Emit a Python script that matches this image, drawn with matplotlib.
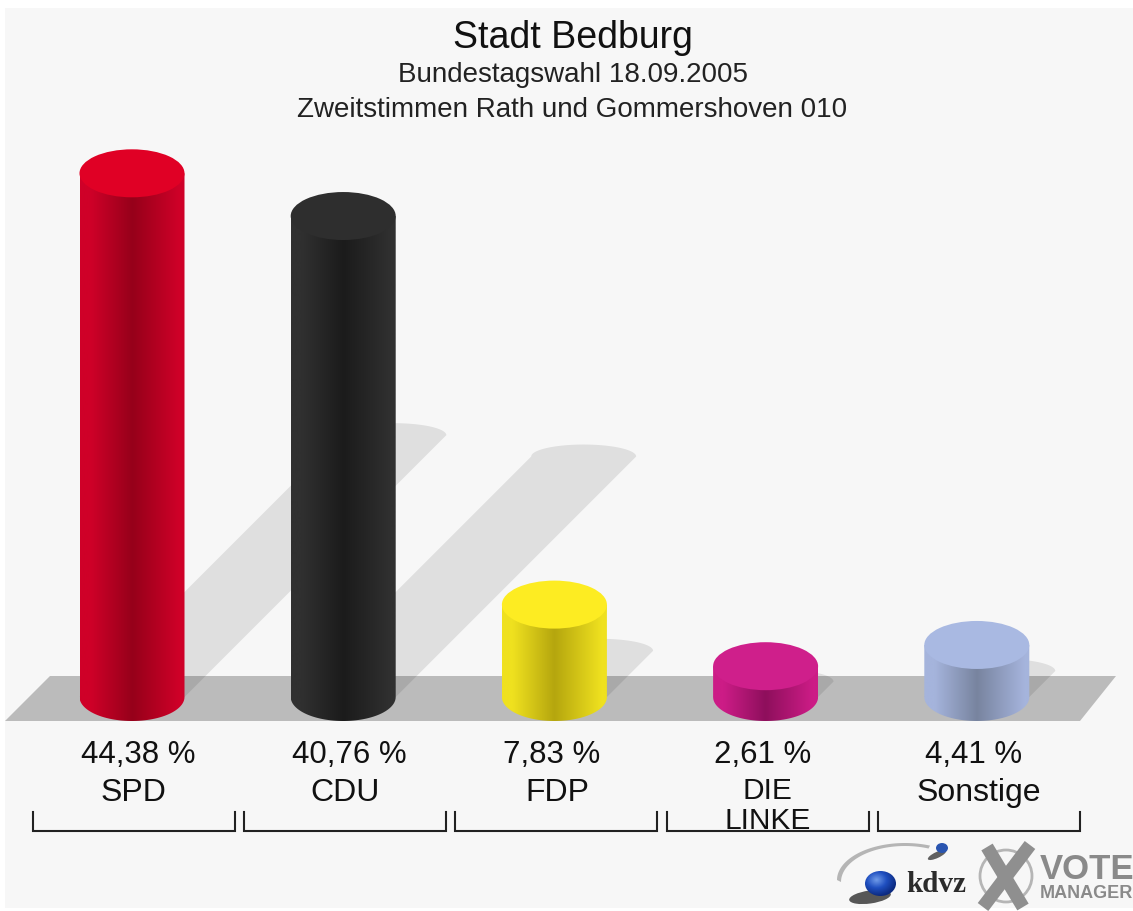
import numpy as np
import matplotlib
matplotlib.use("Agg")
import matplotlib.pyplot as plt
from matplotlib.patches import Polygon, Ellipse, Rectangle, Circle
from matplotlib.colors import LinearSegmentedColormap

title = "Stadt Bedburg"
subtitle_1 = "Bundestagswahl 18.09.2005"
subtitle_2 = "Zweitstimmen Rath und Gommershoven 010"
parties = ["SPD", "CDU", "FDP", "DIE\nLINKE", "Sonstige"]
values = [44.38, 40.76, 7.83, 2.61, 4.41]
value_labels = ["44,38 %", "40,76 %", "7,83 %", "2,61 %", "4,41 %"]
top_colors = ["#e00025", "#2e2e2e", "#fdec22", "#cf1f8b", "#a9b9e2"]
edge_colors = ["#cf0028", "#303030", "#efe11f", "#cc1c86", "#a5b4dc"]
dark_colors = ["#96001a", "#1b1b1b", "#b5a60e", "#8e0f5c", "#78849f"]

W, H = 1133, 911
PX_X = 211.2      # pixels per category
PX_Y = 11.8       # pixels per percent
X0, Y0 = 132, 697 # pixel position of category 0, value 0
HALF_W = 52.5 / PX_X
ELL_H = 24 / PX_Y
VALUE_DX = [6, 6, -3, -3, -3]   # label nudges in pixels
NAME_DX = [1, 2, 3, 2, 2]
TXT = "#111111"

fig = plt.figure(figsize=(W / 100, H / 100), dpi=100, facecolor="white")
plt.rcParams["font.family"] = ["Liberation Sans", "DejaVu Sans"]

# pixel-coordinate layer: panel, floor, logo
ax = fig.add_axes([0, 0, 1, 1])
ax.set_xlim(0, W); ax.set_ylim(H, 0); ax.axis("off")
ax.add_patch(Rectangle((5, 8), W - 5, 900, fc="#f7f7f7", ec="none", zorder=0))
ax.add_patch(Polygon([(5, 721), (1080, 721), (1116, 676), (50, 676)], fc="#bbbbbb", ec="none", zorder=1))

# data layer
dx = fig.add_axes([0, 0, 1, 1], facecolor="none")
dx.axis("off")
xlim = (-X0 / PX_X, (W - X0) / PX_X)
ylim = ((Y0 - H) / PX_Y, Y0 / PX_Y)


def ell_pts(cx, cy, w, h, start, stop, n=60):
    t = np.linspace(start, stop, n)
    return np.column_stack([cx + w * np.cos(t), cy + h * np.sin(t)])


def py(p):
    return (Y0 - p) / PX_Y


for i, v in enumerate(values):
    # shadow falling up and to the right at half the bar's height
    d = 0.5 * v
    sx = i + d * PX_Y / PX_X
    top = ell_pts(sx, d, HALF_W, 12 / PX_Y, 0, np.pi)
    pts = np.vstack([[(i - HALF_W, 0), (i + HALF_W, 0)], top])
    dx.add_patch(Polygon(pts, fc="black", alpha=0.095, ec="none", zorder=2))

for i, v in enumerate(values):
    # cylinder body with a horizontal shading gradient
    bottom = ell_pts(i, 0, HALF_W, ELL_H, np.pi, 2 * np.pi)
    pts = np.vstack([bottom, [(i + HALF_W, v), (i - HALF_W, v)]])
    body = Polygon(pts, closed=True, fc="none", ec="none", transform=dx.transData)
    dx.add_patch(body)
    cmap = LinearSegmentedColormap.from_list(
        "c", [(0, edge_colors[i]), (0.10, edge_colors[i]), (0.50, dark_colors[i]),
              (0.95, edge_colors[i]), (1, edge_colors[i])])
    im = dx.imshow(np.linspace(0, 1, 256)[None, :], cmap=cmap, aspect="auto",
                   extent=(i - HALF_W, i + HALF_W, -ELL_H, v), zorder=3)
    im.set_clip_path(body)
    dx.add_patch(Ellipse((i, v), 2 * HALF_W, 2 * ELL_H, fc=top_colors[i], ec="none", zorder=4))
    # labels under the bar
    dx.text(i + VALUE_DX[i] / PX_X, py(755), value_labels[i], ha="center", va="center",
            fontsize=22.5, color=TXT, zorder=6)
    lines = parties[i].split("\n")
    if len(lines) == 1:
        dx.text(i + NAME_DX[i] / PX_X, py(793), lines[0], ha="center", va="center",
                fontsize=23, color=TXT, zorder=6)
    else:
        for k, line in enumerate(lines):
            dx.text(i + NAME_DX[i] / PX_X, py(791 + 30 * k), line, ha="center", va="center",
                    fontsize=21.5, color=TXT, zorder=6)
    # brackets
    lo = i - 99 / PX_X
    hi = i + 103 / PX_X
    dx.plot([lo, lo, hi, hi], [py(812), py(831), py(831), py(812)],
            color="#222222", lw=1.5, solid_joinstyle="miter", zorder=5)

dx.set_xlim(*xlim); dx.set_ylim(*ylim)

# titles
ax.text(573, 38, title, ha="center", va="center", fontsize=27, color=TXT, zorder=6)
ax.text(573, 75, subtitle_1, ha="center", va="center", fontsize=20, color="#222222", zorder=6)
ax.text(572, 110, subtitle_2, ha="center", va="center", fontsize=20, color="#222222", zorder=6)

# logo: kdvz
t = np.linspace(np.pi * 1.0, np.pi * 1.62, 50)
outer = np.column_stack([905 + 68 * np.cos(t), 880 + 37 * np.sin(t)])
inner = np.column_stack([905 + 64 * np.cos(t[::-1]), 882 + 36 * np.sin(t[::-1])])
ax.add_patch(Polygon(np.vstack([outer, inner]), fc="#b5b5b5", ec="none", zorder=5))
ax.add_patch(Ellipse((937, 855), 20, 6, angle=-25, fc="#3a3a3a", ec="none", alpha=0.8, zorder=5))
ax.add_patch(Ellipse((942, 848), 12, 10, fc="#2a55b0", ec="none", zorder=6))
ax.add_patch(Ellipse((870, 897), 42, 13, angle=-8, fc="#222222", ec="none", alpha=0.75, zorder=5))
yy, xx = np.mgrid[-1:1:80j, -1:1:80j]
sphere = np.clip(np.hypot(xx + 0.25, yy + 0.3) / 1.3, 0, 1)
sph_cmap = LinearSegmentedColormap.from_list("s", ["#6f9ae8", "#1f4fc0", "#0c2a80"])
im = ax.imshow(sphere, cmap=sph_cmap, extent=(865, 896, 896, 871), aspect="auto", zorder=6)
im.set_clip_path(Ellipse((880.5, 883.5), 31, 25, transform=ax.transData))
ax.text(936, 885, "kdvz", ha="center", va="center", fontsize=21, family="Liberation Serif",
        weight="bold", color="#2b2b2b", zorder=6)

# logo: vote manager
ax.add_patch(Circle((1006, 876), 26, fc="none", ec="#b5b5b5", lw=2, zorder=5))
ax.plot([987, 1023], [847, 907], color="#8f8f8f", lw=9.5, solid_capstyle="butt", zorder=6)
ax.plot([1030, 983], [845, 907], color="#8f8f8f", lw=9.5, solid_capstyle="butt", zorder=6)
ax.text(1040, 879, "VOTE", ha="left", va="baseline", fontsize=25, weight="bold", color="#8a8a8a", zorder=6)
ax.text(1040, 898, "MANAGER", ha="left", va="baseline", fontsize=13, weight="bold", color="#8a8a8a", zorder=6)

ax.set_xlim(0, W); ax.set_ylim(H, 0)
fig.savefig("out.png", dpi=100, facecolor="white")
